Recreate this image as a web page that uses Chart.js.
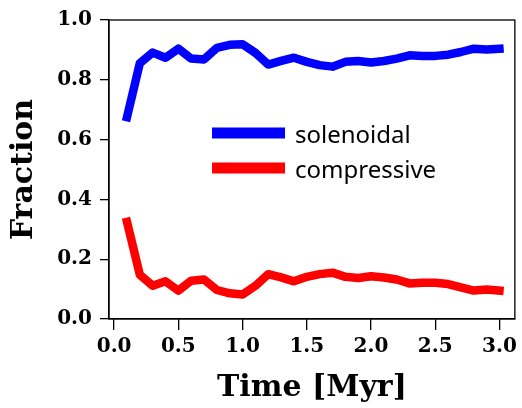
<!DOCTYPE html>
<html>
<head>
<meta charset="utf-8">
<script src="https://cdn.jsdelivr.net/npm/chart.js@4"></script>
<style>
  body { margin: 0; background: #fff; }
  canvas { display: block; }
</style>
</head>
<body>
<canvas id="fractionChart" width="522" height="408"></canvas>
<script>
// Time steps (Myr)
const times = [0.1, 0.2, 0.3, 0.4, 0.5, 0.6, 0.7, 0.8, 0.9, 1.0,
               1.1, 1.2, 1.3, 1.4, 1.5, 1.6, 1.7, 1.8, 1.9, 2.0,
               2.1, 2.2, 2.3, 2.4, 2.5, 2.6, 2.7, 2.8, 2.9, 3.0];

// Solenoidal fraction
const solenoidal = [0.675, 0.855, 0.891, 0.874, 0.904, 0.871, 0.868, 0.907, 0.917, 0.919,
                    0.890, 0.851, 0.863, 0.874, 0.860, 0.849, 0.844, 0.860, 0.863, 0.858,
                    0.863, 0.871, 0.882, 0.880, 0.880, 0.884, 0.893, 0.904, 0.901, 0.904];

// Compressive fraction
const compressive = [0.325, 0.148, 0.111, 0.126, 0.095, 0.128, 0.132, 0.097, 0.086, 0.082,
                     0.111, 0.150, 0.139, 0.126, 0.141, 0.150, 0.155, 0.141, 0.137, 0.143,
                     0.139, 0.132, 0.119, 0.121, 0.121, 0.117, 0.106, 0.095, 0.099, 0.095];

const xTicks = [0.0, 0.5, 1.0, 1.5, 2.0, 2.5, 3.0];
const yTicks = [0.0, 0.2, 0.4, 0.6, 0.8, 1.0];

const serif = "'DejaVu Serif', serif";

// Draw the frame on the top and right sides, like matplotlib spines
const framePlugin = {
    id: 'frame',
    afterDraw(chart) {
        const { ctx, chartArea: a } = chart;
        ctx.save();
        ctx.strokeStyle = '#000';
        ctx.lineWidth = 1.3;
        ctx.strokeRect(a.left, a.top, a.right - a.left, a.bottom - a.top);
        ctx.restore();
    }
};

// Legend inside the plot, drawn from the datasets
const legendPlugin = {
    id: 'insideLegend',
    afterDraw(chart) {
        const ctx = chart.ctx;
        const rows = [133, 168];
        ctx.save();
        chart.data.datasets.forEach((ds, i) => {
            const y = rows[i];
            ctx.strokeStyle = ds.borderColor;
            ctx.lineWidth = 11;
            ctx.beginPath();
            ctx.moveTo(212, y);
            ctx.lineTo(285, y);
            ctx.stroke();
            ctx.fillStyle = '#000';
            ctx.font = "24px 'Noto Sans', sans-serif";
            ctx.textBaseline = 'alphabetic';
            ctx.fillText(ds.label, 295, y + 10);
        });
        ctx.restore();
    }
};

const lineStyle = {
    borderWidth: 8.5,
    pointRadius: 0,
    tension: 0,
    fill: false,
    borderJoinStyle: 'round',
    borderCapStyle: 'square'
};

const ctx = document.getElementById('fractionChart').getContext('2d');
new Chart(ctx, {
    type: 'line',
    data: {
        datasets: [{
            ...lineStyle,
            label: 'solenoidal',
            data: times.map((t, i) => ({ x: t, y: solenoidal[i] })),
            borderColor: '#0000ff'
        }, {
            ...lineStyle,
            label: 'compressive',
            data: times.map((t, i) => ({ x: t, y: compressive[i] })),
            borderColor: '#ff0000'
        }]
    },
    options: {
        responsive: false,
        animation: false,
        layout: { padding: { left: 0, right: 4, top: 14, bottom: 0 } },
        plugins: {
            legend: { display: false },
            tooltip: { enabled: false }
        },
        scales: {
            x: {
                type: 'linear',
                min: -0.04,
                max: 3.12,
                afterBuildTicks: s => { s.ticks = xTicks.map(v => ({ value: v })); },
                afterFit: s => { s.height = 89; },
                grid: { display: true, drawOnChartArea: false, drawTicks: true, tickLength: 11, color: '#000', lineWidth: 1.3 },
                border: { display: true, color: '#000', width: 1.3 },
                ticks: {
                    color: '#000',
                    padding: 5,
                    maxRotation: 0,
                    font: { family: serif, size: 20, weight: 'bold' },
                    callback: v => v.toFixed(1)
                },
                title: {
                    display: true,
                    text: 'Time [Myr]',
                    color: '#000',
                    padding: { top: 0, bottom: 2 },
                    font: { family: serif, size: 30, weight: 'bold' }
                }
            },
            y: {
                min: 0,
                max: 1,
                afterBuildTicks: s => { s.ticks = yTicks.map(v => ({ value: v })); },
                afterFit: s => { s.width = 109; },
                grid: { display: true, drawOnChartArea: false, drawTicks: true, tickLength: 9, color: '#000', lineWidth: 1.3 },
                border: { display: true, color: '#000', width: 1.3 },
                ticks: {
                    color: '#000',
                    padding: 8,
                    font: { family: serif, size: 20, weight: 'bold' },
                    callback: v => v.toFixed(1)
                },
                title: {
                    display: true,
                    text: 'Fraction',
                    color: '#000',
                    padding: { top: 6, bottom: 0 },
                    font: { family: serif, size: 30, weight: 'bold' }
                }
            }
        }
    },
    plugins: [framePlugin, legendPlugin]
});
</script>
</body>
</html>
